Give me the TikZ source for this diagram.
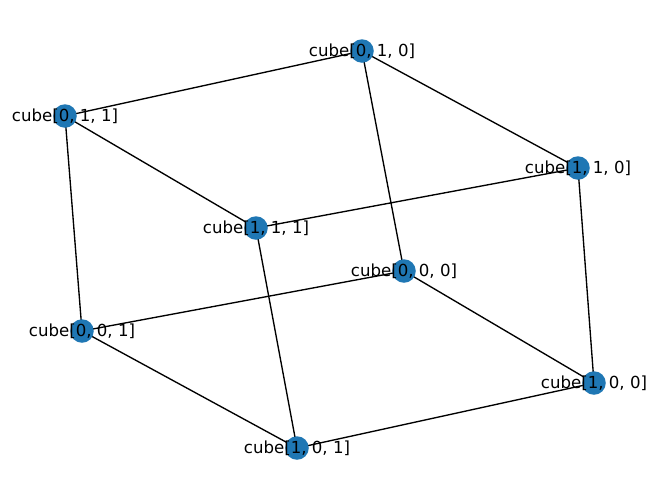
\documentclass[tikz,border=0pt]{standalone}
\usepackage{fontspec}
\setmainfont{DejaVu Sans}
\begin{document}
\begin{tikzpicture}[x=1pt,y=-1pt,
  vtx/.style={circle,fill={rgb,255:red,31;green,119;blue,180},inner sep=0pt,minimum size=23.5pt},
  lbl/.style={font=\fontsize{16.6}{18}\selectfont,inner sep=0pt,text=black},
  edge/.style={draw=black,line width=1.35pt}]
\useasboundingbox (0,0) rectangle (660,499);
\coordinate (a) at (362,51);
\coordinate (b) at (65,116);
\coordinate (c) at (578,168);
\coordinate (d) at (256,228);
\coordinate (e) at (404,271);
\coordinate (f) at (82,331);
\coordinate (g) at (594,383);
\coordinate (h) at (297,448);
\draw[edge] (a)--(b) (a)--(c) (a)--(e) (b)--(d) (b)--(f) (c)--(d) (c)--(g) (d)--(h) (e)--(f) (e)--(g) (f)--(h) (g)--(h);
\foreach \n in {a,b,c,d,e,f,g,h} \node[vtx] (v\n) at (\n) {};
\node[lbl] (la) at (a) {cube[0, 1, 0]};
\node[lbl] (lb) at (b) {cube[0, 1, 1]};
\node[lbl] (lc) at (c) {cube[1, 1, 0]};
\node[lbl] (ld) at (d) {cube[1, 1, 1]};
\node[lbl] (le) at (e) {cube[0, 0, 0]};
\node[lbl] (lf) at (f) {cube[0, 0, 1]};
\node[lbl] (lg) at (g) {cube[1, 0, 0]};
\node[lbl] (lh) at (h) {cube[1, 0, 1]};
\end{tikzpicture}
\end{document}
